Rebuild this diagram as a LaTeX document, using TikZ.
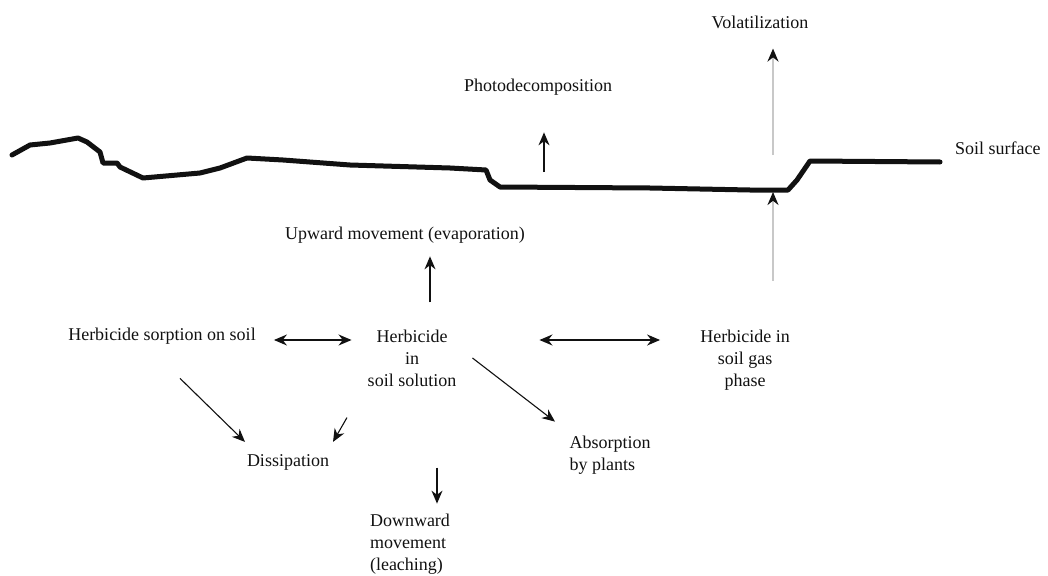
\documentclass[tikz,border=0pt]{standalone}
\usepackage{fontspec}
\setmainfont{Liberation Serif}
\usepackage{tikz}
\usetikzlibrary{arrows.meta, calc}
\definecolor{inkdark}{HTML}{111111}
\definecolor{fadegray}{HTML}{C8C8C8}
\tikzset{
  % Text labels
  lbl/.style={font=\fontsize{18}{22}\selectfont, text=inkdark, inner sep=2pt},
  % Soil profile
  soil/.style={line width=5pt, inkdark, line join=round, line cap=round},
  % Arrows
  arr/.style={-{Stealth[length=13pt, width=11pt]}, line width=1.5pt, inkdark},
  darr/.style={{Stealth[length=13pt, width=11pt]}-{Stealth[length=13pt, width=11pt]},
               line width=1.5pt, inkdark},
  thinarr/.style={-{Stealth[length=13pt, width=11pt]}, line width=1.1pt, inkdark},
  grayarr/.style={-{Stealth[length=13pt, width=11pt, color=inkdark, fill=inkdark]},
                  line width=2pt, fadegray},
}
\begin{document}
\begin{tikzpicture}[x=1pt, y=-1pt]
  \useasboundingbox (0,0) rectangle (1048,575);
  % soil surface line
  \draw[soil] (12,155) -- (30,145) -- (50,143) -- (78,138) -- (87,142)
    -- (100,152) -- (103,163) -- (117,163) -- (120,167) -- (143,178)
    -- (200,173) -- (220,168) -- (247,158) -- (283,160) -- (350,165)
    -- (450,168) -- (486,170) -- (490,180) -- (500,187) -- (650,188)
    -- (750,190) -- (788,190) -- (797,180) -- (810,161) -- (940,162);
  \coordinate (pdbase) at (544,172);
  \coordinate (volbase) at (773,155);
  \coordinate (gastop) at (773,192);

  \node[lbl] (vol) at (760,22) {Volatilization};
  \node[lbl] (photo) at (538,87) {Photodecomposition};
  \node[lbl, anchor=west] (surf) at (953,148) {Soil surface};
  \node[lbl] (upward) at (405,235) {Upward movement (evaporation)};
  \node[lbl] (sorp) at (162,336) {Herbicide sorption on soil};
  \node[lbl, align=center] (soln) at (412,358) {Herbicide\\in\\soil solution};
  \node[lbl, align=center] (gas) at (745,360) {Herbicide in\\soil gas\\phase};
  \node[lbl] (diss) at (288,462) {Dissipation};
  \node[lbl, align=left] (down) at (410,544) {Downward\\movement\\(leaching)};
  \node[lbl, align=left] (absorb) at (610,455) {Absorption\\by plants};

  % vertical arrows
  \draw[arr] (pdbase) -- ($(photo.south)+(6,35)$);
  \draw[grayarr] (volbase) -- ($(vol.south)+(13,18)$);
  \draw[grayarr] ($(gas.north)+(28,-47)$) -- (gastop);
  \draw[arr] ($(soln.north)+(18,-25)$) -- ($(upward.south)+(25,11)$);
  \draw[arr] ($(soln.south)+(25,79)$) -- ($(down.north)+(27,-8)$);
  % exchanges
  \draw[darr] ($(sorp.east)+(16,4)$) -- ($(soln.west)+(-14,-18)$);
  \draw[darr] ($(soln.east)+(81,-18)$) -- ($(gas.west)+(-38,-20)$);
  % losses
  \draw[thinarr] ($(sorp.south)+(18,32)$) -- ($(diss.north)+(-43,-10)$);
  \draw[thinarr] ($(soln.south)+(-65,29)$) -- ($(diss.north)+(45,-10)$);
  \draw[thinarr] ($(soln.east)+(14,0)$) -- ($(absorb.north)+(-55,-12)$);
\end{tikzpicture}
\end{document}
